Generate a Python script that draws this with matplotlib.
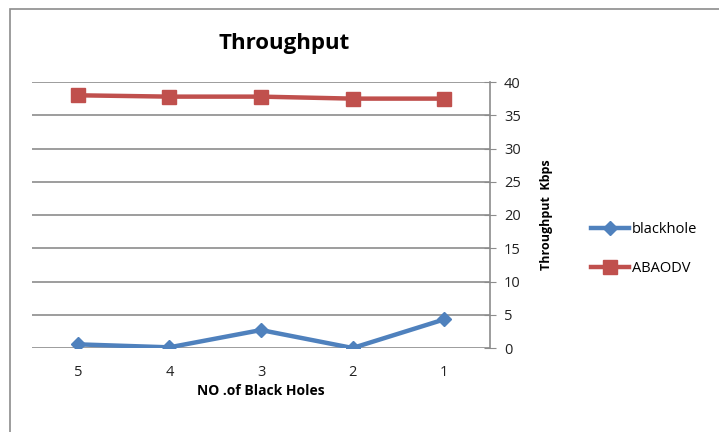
import matplotlib
matplotlib.use("Agg")
import matplotlib.pyplot as plt
from matplotlib.patches import Rectangle

plt.rcParams['font.family'] = ['Open Sans', 'DejaVu Sans']

categories = ['5', '4', '3', '2', '1']
blackhole = [0.55, 0.1, 2.7, 0.0, 4.3]
abaodv = [38.0, 37.8, 37.8, 37.5, 37.5]
y_ticks = [0, 5, 10, 15, 20, 25, 30, 35, 40]

fig = plt.figure(figsize=(7.19, 4.32), dpi=100)
fig.patch.set_facecolor('white')

# outer chart frame
fig.patches.append(Rectangle((10 / 719, -0.1), 1.2, 1 - 9 / 432 + 0.1,
                             transform=fig.transFigure, fill=False,
                             edgecolor='#8c8c8c', linewidth=1.2))

ax = fig.add_axes([32 / 719, 1 - 348 / 432, (490 - 32) / 719, (348 - 82) / 432])
x = list(range(len(categories)))

ax.plot(x, blackhole, color='#4F81BD', linewidth=3.2, marker='D',
        markersize=7.5, label='blackhole', zorder=3)
ax.plot(x, abaodv, color='#C0504D', linewidth=3.2, marker='s',
        markersize=10, label='ABAODV', zorder=3)

ax.set_xlim(-0.5, len(categories) - 0.5)
ax.set_ylim(0, 40)
ax.set_xticks(x)
ax.set_xticklabels(categories)
ax.set_yticks(y_ticks)

ax.yaxis.tick_right()
ax.yaxis.set_label_position('right')
ax.grid(axis='y', color='#8c8c8c', linewidth=1.2)
ax.set_axisbelow(True)
for s in ['top', 'left', 'bottom']:
    ax.spines[s].set_visible(False)
ax.spines['right'].set_color('#8c8c8c')
ax.spines['right'].set_linewidth(1.2)
ax.tick_params(axis='y', direction='inout', length=8, color='#8c8c8c',
               labelsize=10.5, pad=6, labelcolor='#222222')
ax.tick_params(axis='x', length=0, labelsize=10.5, pad=12, labelcolor='#222222')

fig.text(284 / 719, 1 - 43 / 432, 'Throughput', fontsize=16, fontweight='bold',
         ha='center', va='center')
ax.set_xlabel('NO .of Black Holes', fontsize=10, fontweight='bold', labelpad=3)
ax.set_ylabel('Throughput  Kbps', fontsize=9, fontweight='bold', labelpad=14)

fig.legend(loc='center left', bbox_to_anchor=(578 / 719, 1 - 249 / 432),
           frameon=False, fontsize=10.5, handlelength=2.6, labelspacing=1.6,
           handletextpad=0.2)

fig.savefig('out.png', dpi=100)
